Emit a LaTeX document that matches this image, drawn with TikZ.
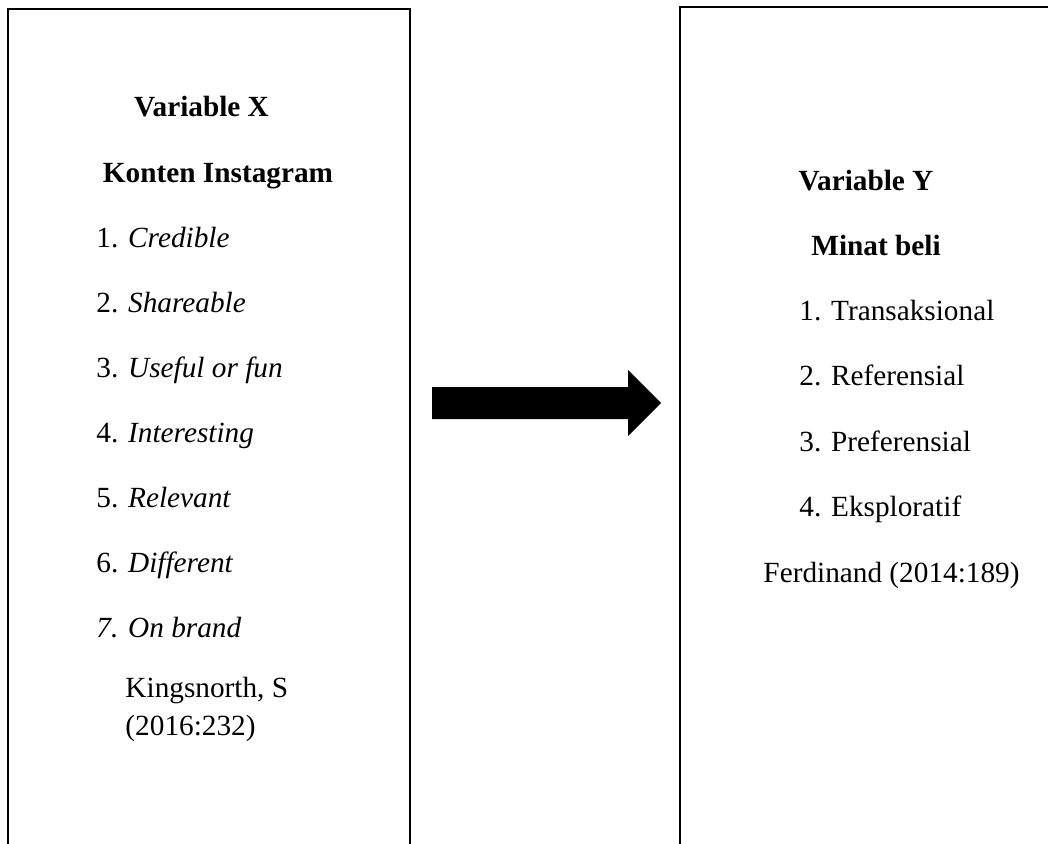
\documentclass[tikz,border=0pt]{standalone}
\usepackage{fontspec}
\setmainfont{Liberation Serif}

\begin{document}
\begin{tikzpicture}[x=0.41pt,y=-0.41pt,
  every node/.style={inner sep=0pt,font=\fontsize{12}{14}\selectfont},
  head/.style={anchor=base,font=\fontsize{12}{14}\selectfont\bfseries},
  item/.style={anchor=base west},
  boxline/.style={line width=0.9pt}]

\clip (0,0) rectangle (1048,844);

% ======================= LEFT BOX: Variable X (runs off the bottom) ====
\draw[boxline] (8,860) -- (8,9) -- (410,9) -- (410,860);
\node[head] (varX) at (201.5,116) {Variable X};
\node[head] (kontenIG) at (218,182) {Konten Instagram};
% indicators, italic names
\foreach \n/\t in {1/Credible,2/Shareable,3/Useful or fun,4/Interesting,5/Relevant,6/Different}
  {\node[item] (x\n) at (96,{247+65*(\n-1)}) {\n. \textit{\t}};}
\node[item] (x7) at (96,637) {\textit{7. On brand}};
\node[item] (srcX) at (125,697) {Kingsnorth, S};
\node[item] (srcXyr) at (125,735) {(2016:232)};

% ======================= BLOCK ARROW: X -> Y ===========================
\fill[black] (432,387) -- (628,387) -- (628,370) -- (661,403)
  -- (628,436) -- (628,419) -- (432,419) -- cycle;

% ======================= RIGHT BOX: Variable Y (runs off right/bottom) =
\draw[boxline] (680,860) -- (680,7) -- (1060,7);
\node[head] (varY) at (866,190) {Variable Y};
\node[head] (minat) at (876,255) {Minat beli};
\foreach \n/\t in {1/Transaksional,2/Referensial,3/Preferensial,4/Eksploratif}
  {\node[item] (y\n) at (799,{320+65.5*(\n-1)}) {\n. \t};}
\node[item] (srcY) at (763,582) {Ferdinand (2014:189)};

\end{tikzpicture}
\end{document}
